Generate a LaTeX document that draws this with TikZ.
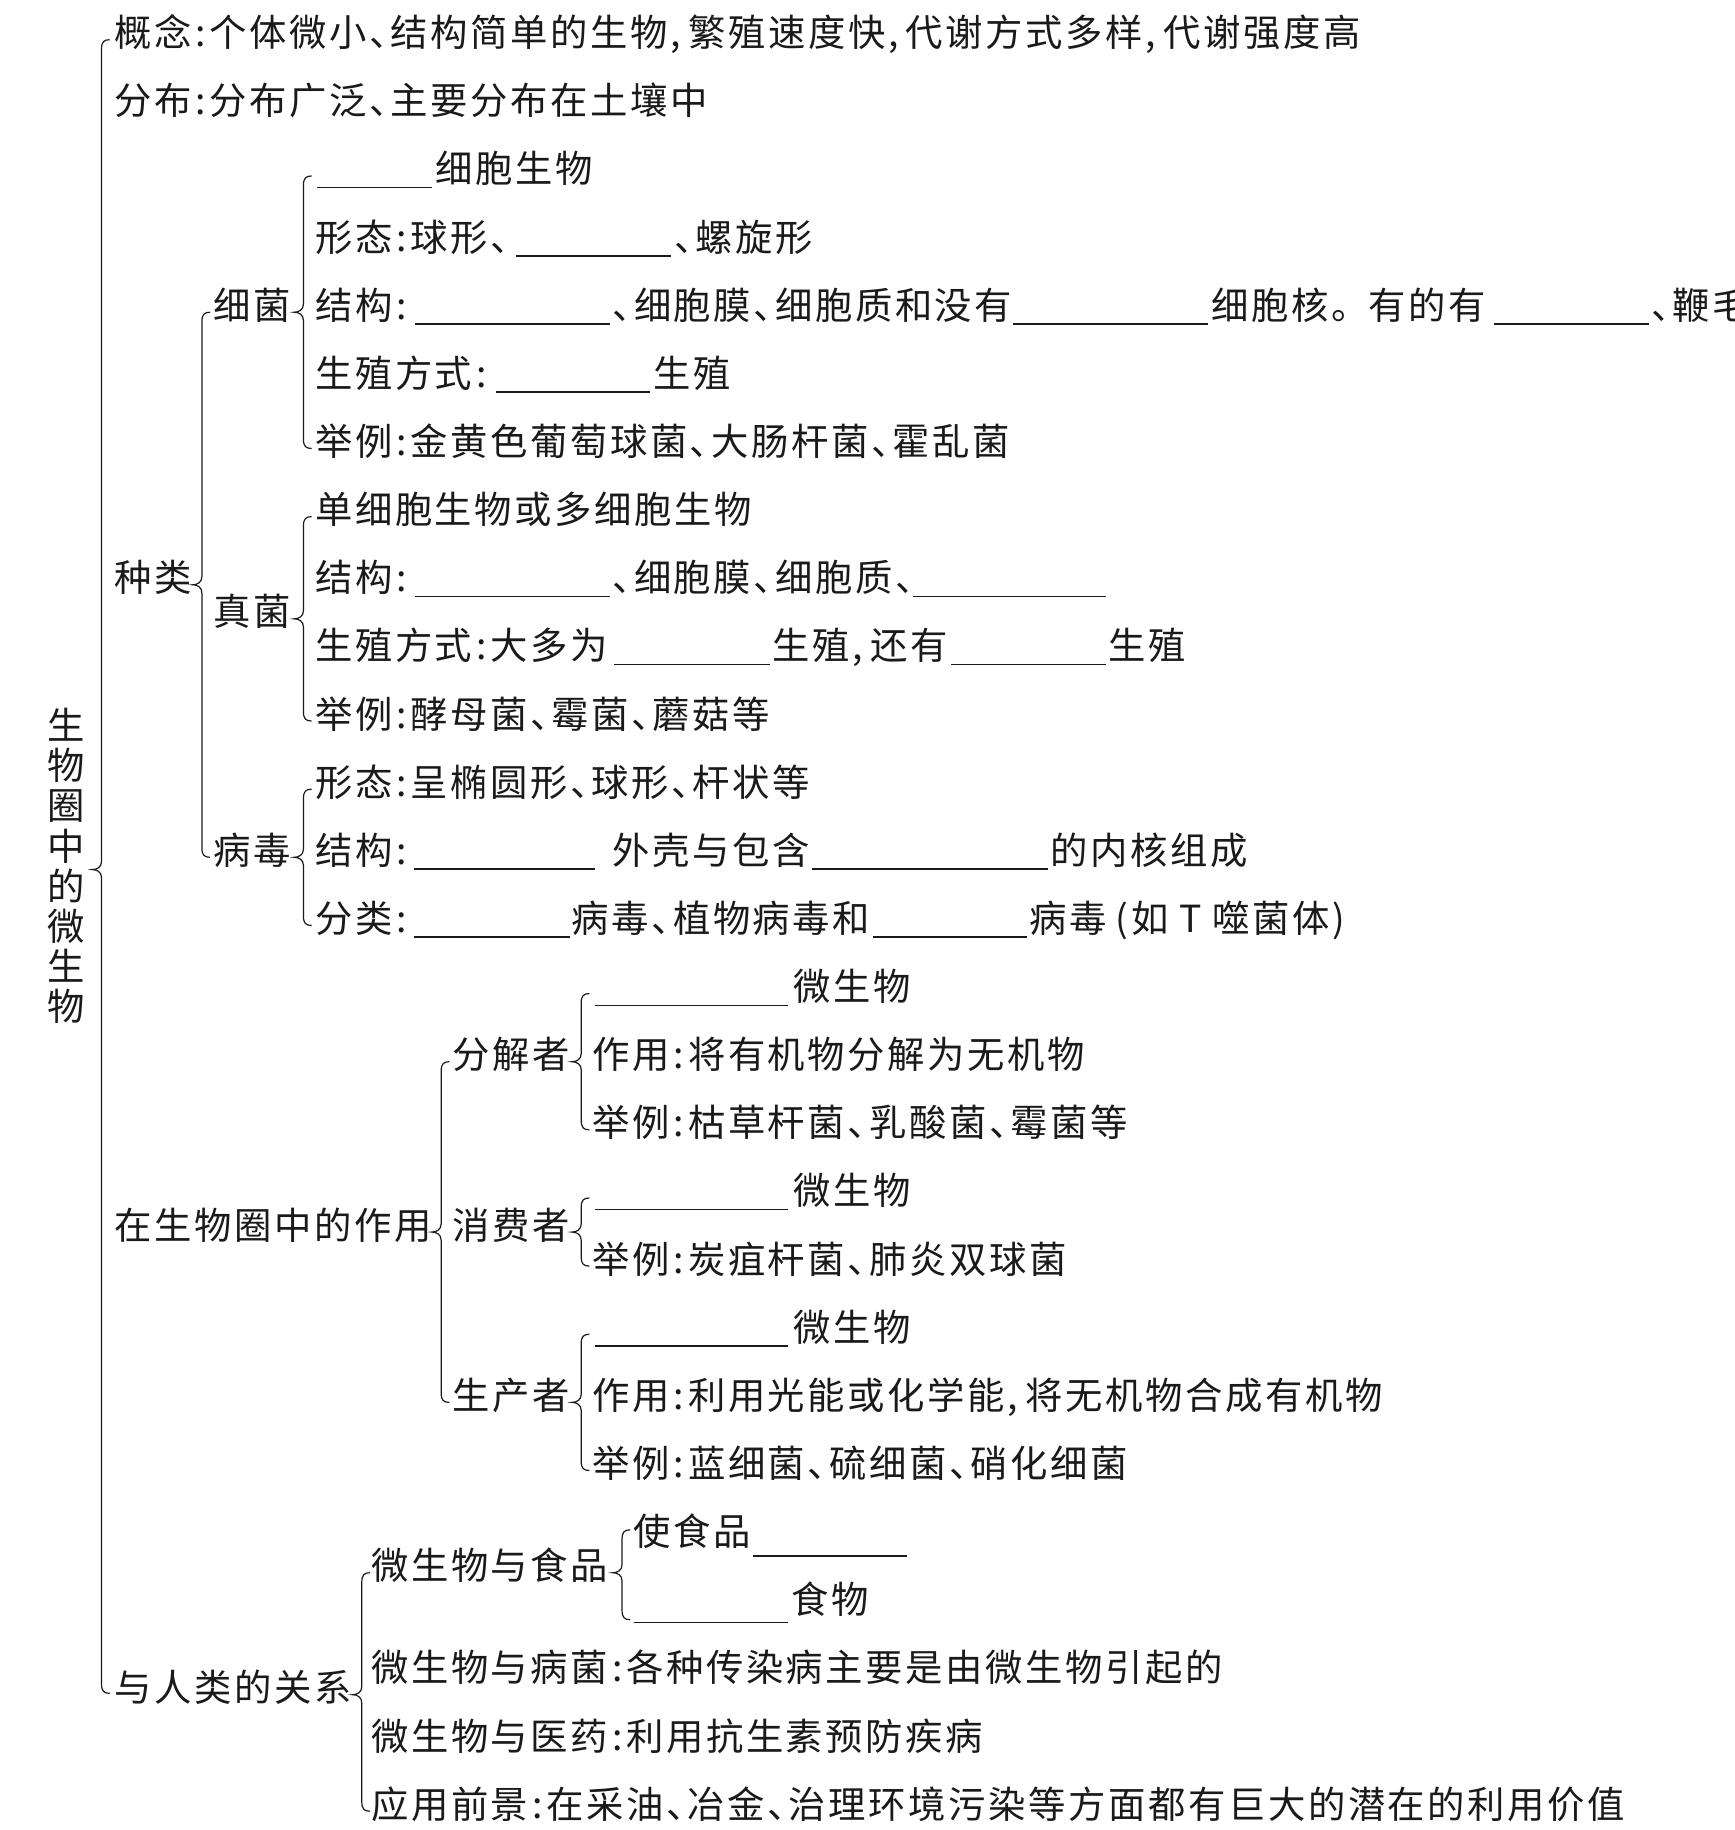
\documentclass[tikz,border=0pt]{standalone}
\usepackage{fontspec}
\newfontfamily\cjk{Noto Sans CJK SC}[RawFeature={+halt},LetterSpace=7]
\newfontfamily\cjkplain{Noto Sans CJK SC}
\definecolor{ink}{HTML}{1A1A1A}
\newcommand\cl{\hspace{0.1em}:\hspace{0.1em}}
\newcommand\cm{,\hspace{0.2em}}
\newcommand\mytext[4]{\node[txt] (#1) at (#2,{40+58.38*(#3)}) {#4};}
\newcommand\myline[3]{\draw[uline] (#1,{44+58.38*(#2)}) -- (#3,{44+58.38*(#2)});}
\newcommand\mybrace[4]{%
 \draw[brace] ({#1+7},{34+58.38*(#2)}) .. controls ({#1+2},{34+58.38*(#2)}) and (#1,{36+58.38*(#2)}) .. (#1,{42+58.38*(#2)})
 -- (#1,{27+58.38*(#4)}) .. controls (#1,{32+58.38*(#4)}) and ({#1-4},{34+58.38*(#4)}) .. ({#1-8},{34+58.38*(#4)})
 .. controls ({#1-4},{34+58.38*(#4)}) and (#1,{36+58.38*(#4)}) .. (#1,{41+58.38*(#4)})
 -- (#1,{26+58.38*(#3)}) .. controls (#1,{32+58.38*(#3)}) and ({#1+2},{34+58.38*(#3)}) .. ({#1+7},{34+58.38*(#3)});}
\begin{document}
\begin{tikzpicture}[x=0.58345pt,y=-0.58345pt,
  txt/.style={anchor=base west,inner sep=0pt,outer sep=0pt,text=ink,
    font=\cjk\fontsize{18.67pt}{22pt}\selectfont},
  uline/.style={line width=0.75pt,draw=ink},
  brace/.style={line width=0.6pt,draw=ink}]
\clip (0,0) rectangle (1486,1568);
\fill[white] (0,0) rectangle (1486,1568);
% title
\node[inner sep=0pt,text=ink,align=center,font=\cjkplain\fontsize{18.67pt}{20.07pt}\selectfont] (title) at (57,742) {生\\物\\圈\\中\\的\\微\\生\\物};
% braces
\mybrace{87}{0}{24.27}{12.18}
\mybrace{173}{4}{12}{8}
\mybrace{260}{2}{6}{4}
\mybrace{260}{7}{10}{8.5}
\mybrace{260}{11}{13}{12}
\mybrace{378}{15}{20}{17.5}
\mybrace{498}{14}{16}{15}
\mybrace{498}{17}{18}{17.5}
\mybrace{498}{19}{21}{20}
\mybrace{310}{22.5}{26}{24.29}
\mybrace{533}{21.87}{23.19}{22.5}
% level 1
\mytext{gn}{98}{0}{概念\cl 个体微小、结构简单的生物\cm 繁殖速度快\cm 代谢方式多样\cm 代谢强度高}
\mytext{fb}{98}{1}{分布\cl 分布广泛、主要分布在土壤中}
\mytext{zl}{98}{8}{种类}
\mytext{zy}{98}{17.5}{在生物圈中的作用}
\mytext{gx}{98}{24.29}{与人类的关系}
% 种类
\mytext{xj}{183}{4}{细菌}
\mytext{zj}{183}{8.5}{真菌}
\mytext{bd}{183}{12}{病毒}
% 细菌
\myline{272}{2}{370}
\mytext{xa}{373}{2}{细胞生物}
\mytext{xb1}{270}{3}{形态\cl 球形、}
\myline{442}{3}{575}
\mytext{xb2}{578}{3}{、螺旋形}
\mytext{xc1}{270}{4}{结构\cl}
\myline{356}{4}{523}
\mytext{xc2}{525}{4}{、细胞膜、细胞质和没有}
\myline{868}{4}{1035}
\mytext{xc3}{1038}{4}{细胞核。\hspace{0.5em}有的有}
\myline{1280}{4}{1413}
\mytext{xc4}{1415}{4}{、鞭毛}
\mytext{xd1}{270}{5}{生殖方式\cl}
\myline{425}{5}{557}
\mytext{xd2}{560}{5}{生殖}
\mytext{xe}{270}{6}{举例\cl 金黄色葡萄球菌、大肠杆菌、霍乱菌}
% 真菌
\mytext{za}{270}{7}{单细胞生物或多细胞生物}
\mytext{zb1}{270}{8}{结构\cl}
\myline{356}{8}{523}
\mytext{zb2}{525}{8}{、细胞膜、细胞质、}
\myline{782}{8}{948}
\mytext{zc1}{270}{9}{生殖方式\cl 大多为}
\myline{526}{9}{660}
\mytext{zc2}{662}{9}{生殖\cm 还有}
\myline{815}{9}{948}
\mytext{zc3}{950}{9}{生殖}
\mytext{zd}{270}{10}{举例\cl 酵母菌、霉菌、蘑菇等}
% 病毒
\mytext{ba}{270}{11}{形态\cl 呈椭圆形、球形、杆状等}
\mytext{bb1}{270}{12}{结构\cl}
\myline{355}{12}{510}
\mytext{bb2}{525}{12}{外壳与包含}
\myline{696}{12}{898}
\mytext{bb3}{900}{12}{的内核组成}
\mytext{bc1}{270}{13}{分类\cl}
\myline{355}{13}{488}
\mytext{bc2}{490}{13}{病毒、植物病毒和}
\myline{748}{13}{880}
\mytext{bc3}{882}{13}{病毒\hspace{0.25em}(如 T 噬菌体)}
% 作用
\mytext{fj}{388}{15}{分解者}
\mytext{xf}{388}{17.5}{消费者}
\mytext{sc}{388}{20}{生产者}
\myline{510}{14}{675}
\mytext{fa}{680}{14}{微生物}
\mytext{fbb}{508}{15}{作用\cl 将有机物分解为无机物}
\mytext{fc}{508}{16}{举例\cl 枯草杆菌、乳酸菌、霉菌等}
\myline{510}{17}{675}
\mytext{xfa}{680}{17}{微生物}
\mytext{xfb}{508}{18}{举例\cl 炭疽杆菌、肺炎双球菌}
\myline{510}{19}{675}
\mytext{sca}{680}{19}{微生物}
\mytext{scb}{508}{20}{作用\cl 利用光能或化学能\cm 将无机物合成有机物}
\mytext{scc}{508}{21}{举例\cl 蓝细菌、硫细菌、硝化细菌}
% 关系
\mytext{sp}{318}{22.5}{微生物与食品}
\mytext{spa}{543}{22}{使食品}
\draw[uline] (645,1333) -- (777,1333);
\draw[uline] (543,1390) -- (675,1390);
\mytext{spb}{678}{23}{食物}
\mytext{bj}{318}{24}{微生物与病菌\cl 各种传染病主要是由微生物引起的}
\mytext{yy}{318}{25}{微生物与医药\cl 利用抗生素预防疾病}
\mytext{qj}{318}{26}{应用前景\cl 在采油、冶金、治理环境污染等方面都有巨大的潜在的利用价值}
\end{tikzpicture}
\end{document}
